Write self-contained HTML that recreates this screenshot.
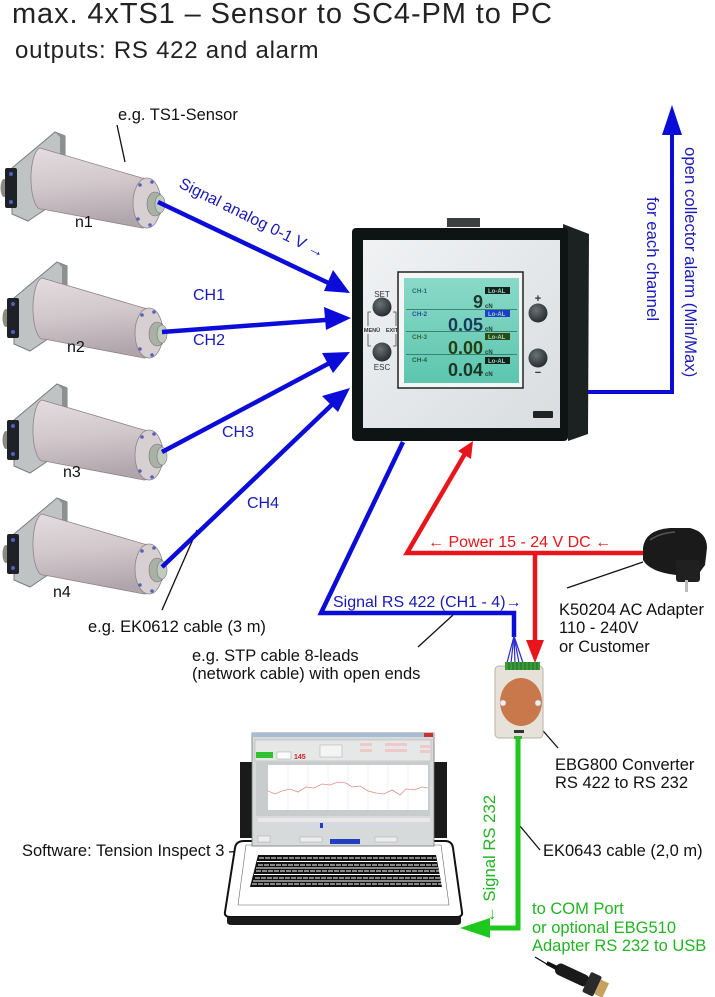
<!DOCTYPE html>
<html><head><meta charset="utf-8"><style>
html,body{margin:0;padding:0;background:#fff;}
svg{display:block;}
text{font-family:"Liberation Sans",Arial,sans-serif;}
</style></head><body>
<svg width="715" height="997" viewBox="0 0 715 997" xmlns="http://www.w3.org/2000/svg">
<defs>
<linearGradient id="cyl" x1="0" y1="0" x2="0.15" y2="1">
<stop offset="0" stop-color="#e4dcdf"/><stop offset="0.5" stop-color="#d2c8cc"/><stop offset="1" stop-color="#b0a5aa"/>
</linearGradient>
<linearGradient id="lcd" x1="0" y1="0" x2="0" y2="1">
<stop offset="0" stop-color="#8ad9c8"/><stop offset="1" stop-color="#5cc6ae"/>
</linearGradient>
<linearGradient id="panel" x1="0" y1="0" x2="1" y2="1">
<stop offset="0" stop-color="#f0f2f4"/><stop offset="1" stop-color="#d9dde0"/>
</linearGradient>
<radialGradient id="btn" cx="0.4" cy="0.35" r="0.7">
<stop offset="0" stop-color="#6a7276"/><stop offset="1" stop-color="#22282c"/>
</radialGradient>
<g id="sensor">
 <polygon points="12,168 55,132 65,136 65,196 28,221 12,214" fill="#bfc3c3" stroke="#7a7e7e" stroke-width="1"/>
 <polygon points="55,132 65,136 65,196 60,198 60,137" fill="#8c9090"/>
 <ellipse cx="4" cy="188" rx="3.5" ry="9" fill="#8a8a80"/>
 <rect x="5" y="168" width="12" height="40" rx="2" fill="#1e2226"/>
 <circle cx="11" cy="174" r="2" fill="#5060c0"/><circle cx="11" cy="202" r="2" fill="#5060c0"/>
 <path d="M40,148 L142,178 A14,25 0 0 1 142,228 L42,209 A10,30.5 0 0 1 40,148 Z" fill="url(#cyl)" stroke="#8e8488" stroke-width="0.8"/>
 <ellipse cx="147" cy="203" rx="14" ry="25" fill="#d8cfd3" stroke="#8e8488" stroke-width="0.8"/>
 <circle cx="140" cy="185" r="1.8" fill="#5565b5"/><circle cx="152" cy="182" r="1.8" fill="#5565b5"/>
 <circle cx="159" cy="195" r="1.8" fill="#5565b5"/><circle cx="159" cy="213" r="1.8" fill="#5565b5"/>
 <circle cx="150" cy="225" r="1.8" fill="#5565b5"/><circle cx="138" cy="219" r="1.8" fill="#5565b5"/>
 <ellipse cx="155" cy="204" rx="8" ry="12" fill="#a9b1a5" stroke="#777" stroke-width="0.6"/>
 <ellipse cx="160" cy="204" rx="5" ry="9" fill="#c3cbbf" stroke="#777" stroke-width="0.6"/>
</g>
</defs>

<!-- Titles -->
<text x="12" y="23" font-size="29" letter-spacing="0.9" fill="#222">max. 4xTS1 – Sensor to SC4-PM to PC</text>
<text x="15" y="58" font-size="24" letter-spacing="0.75" fill="#222">outputs: RS 422 and alarm</text>

<!-- Sensors -->
<use href="#sensor"/>
<use href="#sensor" transform="translate(2,130)"/>
<use href="#sensor" transform="translate(2,252)"/>
<use href="#sensor" transform="translate(2,366)"/>

<g font-size="16" fill="#111">
<text x="75" y="227">n1</text>
<text x="67" y="352">n2</text>
<text x="63" y="477">n3</text>
<text x="53" y="597">n4</text>
</g>

<!-- leader lines -->
<g stroke="#111" stroke-width="1.3" fill="none">
<line x1="117" y1="125" x2="125" y2="162"/>
<line x1="162" y1="610" x2="197" y2="530"/>
<line x1="453" y1="615" x2="418" y2="647"/>
<line x1="643" y1="562" x2="567" y2="588"/>
<line x1="538" y1="725" x2="558" y2="748"/>
<line x1="520" y1="826" x2="540" y2="850"/>
<line x1="229" y1="852" x2="302" y2="847"/>
<line x1="535" y1="957" x2="565" y2="975"/>
</g>

<!-- Blue channel lines -->
<g stroke="#0c0cd8" stroke-width="4.5" fill="none">
<line x1="158" y1="202" x2="339" y2="288"/>
<line x1="162" y1="332" x2="339" y2="319"/>
<line x1="162" y1="452" x2="339" y2="358"/>
<line x1="162" y1="567" x2="341" y2="396"/>
</g>
<g fill="#0c0cd8">
<polygon points="350,293 324,291 333,270"/>
<polygon points="351,318 326,330 324,307"/>
<polygon points="350,352 333,373 322,353"/>
<polygon points="350,388 338,412 322,396"/>
</g>

<!-- Device -->
<polygon points="563,224 589,234 588,434 568,441" fill="#1c2222"/>
<rect x="447" y="218" width="33" height="9" fill="#3a3e3e"/>
<rect x="352" y="228" width="216" height="213" rx="4" fill="#0e1313"/>
<rect x="363" y="240" width="197" height="188" fill="url(#panel)"/>
<rect x="398" y="272" width="125" height="116" fill="#f4f5f5" stroke="#222" stroke-width="1.5"/>
<rect x="404" y="278" width="115" height="105" fill="url(#lcd)"/>
<g stroke="#2a6a58" stroke-width="0.8">
<line x1="406" y1="309.5" x2="517" y2="309.5"/>
<line x1="406" y1="331.5" x2="517" y2="331.5"/>
<line x1="406" y1="354.5" x2="517" y2="354.5"/>
</g>
<g font-size="6.5" font-weight="bold">
<text x="412" y="293" fill="#2a6a70">CH-1</text>
<text x="412" y="316" fill="#2050a0">CH-2</text>
<text x="412" y="339" fill="#3a6a30">CH-3</text>
<text x="412" y="362" fill="#2a5a48">CH-4</text>
</g>
<rect x="485" y="287" width="25" height="7" fill="#12221a"/>
<rect x="485" y="310" width="25" height="7" fill="#1e3ec8"/>
<rect x="485" y="333" width="25" height="7" fill="#2c4a12"/>
<rect x="485" y="357" width="25" height="7" fill="#12221a"/>
<g font-size="6" fill="#9ad8c8" font-weight="bold">
<text x="488" y="293">Lo-AL</text><text x="488" y="316">Lo-AL</text>
<text x="488" y="339">Lo-AL</text><text x="488" y="363">Lo-AL</text>
</g>
<g font-size="18" font-weight="bold" text-anchor="end">
<text x="483" y="308" fill="#1e3a30">9</text>
<text x="483" y="331" fill="#1a3a5a">0.05</text>
<text x="483" y="354" fill="#263e12">0.00</text>
<text x="483" y="376" fill="#1e3428">0.04</text>
</g>
<g font-size="6" font-weight="bold" fill="#1e3a30">
<text x="485" y="308">cN</text><text x="485" y="331">cN</text>
<text x="485" y="354">cN</text><text x="485" y="376">cN</text>
</g>
<circle cx="382" cy="307" r="9.5" fill="url(#btn)"/>
<circle cx="382" cy="352" r="9.5" fill="url(#btn)"/>
<circle cx="538" cy="313" r="9.5" fill="url(#btn)"/>
<circle cx="538" cy="358" r="9.5" fill="url(#btn)"/>
<path d="M371,312 L368,312 L368,326 M368,334 L368,346 L371,346 M393,312 L396,312 L396,326 M396,334 L396,346 L393,346" stroke="#444" stroke-width="0.8" fill="none"/>
<g fill="#333" text-anchor="middle">
<text x="382" y="297" font-size="8">SET</text>
<text x="382" y="370" font-size="8">ESC</text>
<text x="372" y="332" font-size="5.5" font-weight="bold">MENÜ</text>
<text x="392" y="332" font-size="5.5" font-weight="bold">EXIT</text>
<text x="538" y="302" font-size="11" font-weight="bold">+</text>
<text x="538" y="376" font-size="11" font-weight="bold">−</text>
</g>
<rect x="533" y="411" width="20" height="7" rx="1" fill="#222"/>

<!-- Alarm -->
<polyline points="588,392 672,392 672,132" stroke="#0c0cd8" stroke-width="4" fill="none"/>
<polygon points="672,105 662,135 682,135" fill="#0c0cd8"/>
<text transform="translate(685,147) rotate(90)" font-size="16.8" fill="#1a1ab8">open collector alarm (Min/Max)</text>
<text transform="translate(647,197) rotate(90)" font-size="16.8" fill="#1a1ab8">for each channel</text>

<!-- RS422 blue -->
<polyline points="403,442 321,613 514,613 514,637" stroke="#0c0cd8" stroke-width="4.5" fill="none" stroke-linejoin="miter"/>
<g stroke="#2a2ad0" stroke-width="1.2">
<line x1="514" y1="636" x2="507" y2="663"/><line x1="514" y1="636" x2="511" y2="663"/>
<line x1="514" y1="636" x2="515" y2="663"/><line x1="514" y1="636" x2="519" y2="663"/>
<line x1="514" y1="636" x2="523" y2="663"/>
</g>

<!-- Power red -->
<polyline points="466,452 407,553 645,553" stroke="#e8161c" stroke-width="4.5" fill="none"/>
<polygon points="473,441 471,459 458,451" fill="#e8161c"/>
<line x1="535" y1="553" x2="535" y2="642" stroke="#e8161c" stroke-width="4.5"/>
<polygon points="526,640 544,640 535,663" fill="#e8161c"/>

<!-- Adapter -->
<path d="M643,548 Q645,530 670,528 L690,528 Q707,532 707,548 L705,565 L700,572 L676,575 Q650,572 643,560 Z" fill="#1a1a1a"/>
<path d="M650,540 Q660,533 675,532" stroke="#555" stroke-width="1.5" fill="none"/>
<rect x="676" y="560" width="24" height="22" rx="3" fill="#202020"/>
<rect x="685" y="580" width="3" height="12" fill="#bbb"/>

<!-- Converter -->
<rect x="495" y="666" width="48" height="72" rx="4" fill="#e6e2da" stroke="#b8b0a4" stroke-width="1"/>
<rect x="505" y="662" width="35" height="8" fill="#3a9a3a"/>
<g stroke="#1f5f1f" stroke-width="0.8">
<line x1="509" y1="662" x2="509" y2="670"/><line x1="513" y1="662" x2="513" y2="670"/><line x1="517" y1="662" x2="517" y2="670"/>
<line x1="521" y1="662" x2="521" y2="670"/><line x1="525" y1="662" x2="525" y2="670"/><line x1="529" y1="662" x2="529" y2="670"/>
<line x1="533" y1="662" x2="533" y2="670"/><line x1="537" y1="662" x2="537" y2="670"/>
</g>
<ellipse cx="521" cy="702" rx="21" ry="24" fill="#c8784a"/>
<circle cx="503" cy="703" r="3" fill="#eee" stroke="#aaa" stroke-width="0.5"/>
<circle cx="538" cy="703" r="3" fill="#eee" stroke="#aaa" stroke-width="0.5"/>
<rect x="514" y="730" width="10" height="3" fill="#333"/>
<rect x="514" y="736" width="8" height="3" fill="#4a4"/>

<!-- Green -->
<polyline points="518,738 518,928 488,928" stroke="#1ec81e" stroke-width="5" fill="none"/>
<polygon points="460,928 490,918 490,938" fill="#1ec81e"/>
<text transform="translate(495,923) rotate(-90)" font-size="16.7" fill="#22b422">← Signal RS 232</text>

<!-- USB adapter -->
<g transform="translate(583,980) rotate(25)">
<rect x="-30" y="-6" width="36" height="12" rx="5" fill="#1a1a1a"/>
<rect x="4" y="-11" width="12" height="22" rx="2" fill="#2a2a2a"/>
<rect x="16" y="-8" width="9" height="16" fill="#c8a060"/>
<rect x="-40" y="-2" width="12" height="4" fill="#111"/>
</g>

<!-- Laptop -->
<rect x="240" y="762" width="12" height="76" fill="#1a1a1a"/>
<rect x="434" y="762" width="13" height="76" fill="#1a1a1a"/>
<path d="M244,841 L445,841 Q452,841 453,848 L462,912 Q463,917 456,917 L231,917 Q224,917 225,912 L235,848 Q236,841 244,841 Z" fill="#fff" stroke="#111" stroke-width="2"/>
<path d="M227,917 L461,917 L461,922 Q461,925 456,925 L232,925 Q227,925 227,922 Z" fill="#1a1a1a"/>
<path d="M246,845 L441,845 L449,905 L238,905 Z" fill="none" stroke="#666" stroke-width="0.6"/>
<polygon points="258,855 436,855 442,887 250,887" fill="#111"/>
<g stroke="#fff" stroke-width="1">
<line x1="257" y1="861.5" x2="437" y2="861.5"/><line x1="256" y1="868" x2="438" y2="868"/>
<line x1="254" y1="874.5" x2="440" y2="874.5"/><line x1="253" y1="881" x2="441" y2="881"/>
</g>
<g stroke="#fff" stroke-width="1" stroke-dasharray="5 1" >
<line x1="259" y1="858" x2="436" y2="858"/><line x1="258" y1="865" x2="437" y2="865"/>
<line x1="256" y1="871" x2="439" y2="871"/><line x1="255" y1="878" x2="440" y2="878"/>
<line x1="252" y1="884" x2="442" y2="884"/>
</g>
<rect x="252" y="733" width="182" height="113" fill="#d6dada" stroke="#777" stroke-width="0.8"/>
<rect x="252" y="733" width="182" height="4" fill="#a8bcd8"/>
<rect x="424" y="733" width="9" height="4" fill="#d03030"/>
<rect x="255" y="740" width="176" height="21" fill="#e6e8e8" stroke="#aaa" stroke-width="0.5"/>
<rect x="256" y="752" width="17" height="6" fill="#30c030"/>
<rect x="277" y="752" width="14" height="7" fill="#fff" stroke="#888" stroke-width="0.4"/>
<text x="294" y="759" font-size="7" font-weight="bold" fill="#d02020">145</text>
<rect x="320" y="745" width="22" height="12" fill="#f4f4f4" stroke="#999" stroke-width="0.4"/>
<g fill="#f0c8c8"><rect x="360" y="743" width="12" height="3"/><rect x="360" y="749" width="12" height="3"/><rect x="385" y="743" width="22" height="3"/><rect x="385" y="749" width="22" height="3"/><rect x="420" y="745" width="10" height="3"/><rect x="420" y="750" width="10" height="3"/></g>
<rect x="256" y="762" width="174" height="54" fill="#c8cccc"/>
<rect x="268" y="765" width="160" height="45" fill="#fff"/>
<g stroke="#e4e4e4" stroke-width="0.5">
<line x1="288" y1="765" x2="288" y2="810"/><line x1="308" y1="765" x2="308" y2="810"/><line x1="328" y1="765" x2="328" y2="810"/>
<line x1="348" y1="765" x2="348" y2="810"/><line x1="368" y1="765" x2="368" y2="810"/><line x1="388" y1="765" x2="388" y2="810"/><line x1="408" y1="765" x2="408" y2="810"/>
</g>
<polyline points="268,791 275,794 282,791 290,789 298,792 306,787 314,788 322,784 330,785 338,782 346,783 352,787 360,786 368,791 376,793 384,794 392,790 400,795 406,789 414,790 422,787 428,788" fill="none" stroke="#e09090" stroke-width="0.8"/>
<rect x="258" y="818" width="172" height="4" fill="#e8e8e8"/>
<rect x="300" y="825" width="100" height="2" fill="#d8d8e8"/>
<rect x="320" y="823" width="3" height="5" fill="#2040c0"/>
<rect x="330" y="839" width="30" height="5" fill="#2040c0"/>
<rect x="258" y="836" width="12" height="6" fill="#eee" stroke="#999" stroke-width="0.4"/>
<rect x="300" y="837" width="22" height="5" fill="#eee" stroke="#999" stroke-width="0.4"/>
<rect x="375" y="837" width="22" height="5" fill="#eee" stroke="#999" stroke-width="0.4"/>

<!-- Labels -->
<g font-size="16.5" fill="#111">
<text x="118" y="120">e.g. TS1-Sensor</text>
<text x="88" y="632">e.g. EK0612 cable (3 m)</text>
<text x="192" y="661">e.g. STP cable 8-leads</text>
<text x="192" y="679">(network cable) with open ends</text>
<text x="559" y="615">K50204 AC Adapter</text>
<text x="559" y="633">110 - 240V</text>
<text x="559" y="652">or Customer</text>
<text x="555" y="770">EBG800 Converter</text>
<text x="555" y="788">RS 422 to RS 232</text>
<text x="543" y="856">EK0643 cable (2,0 m)</text>
<text x="22" y="856">Software: Tension Inspect 3</text>
</g>
<g font-size="16" fill="#1a1ab8">
<text transform="translate(178,187) rotate(26.5)">Signal analog 0-1 V →</text>
<text x="193" y="300">CH1</text>
<text x="193" y="345">CH2</text>
<text x="222" y="437">CH3</text>
<text x="247" y="508">CH4</text>
<text x="333" y="607">Signal RS 422 (CH1 - 4)→</text>
</g>
<text x="428" y="547" font-size="16" fill="#e8161c">← Power 15 - 24 V DC ←</text>
<g font-size="16.5" fill="#22b422">
<text x="532" y="914">to COM Port</text>
<text x="532" y="933">or optional EBG510</text>
<text x="532" y="951">Adapter RS 232  to USB</text>
</g>
</svg>
</body></html>
